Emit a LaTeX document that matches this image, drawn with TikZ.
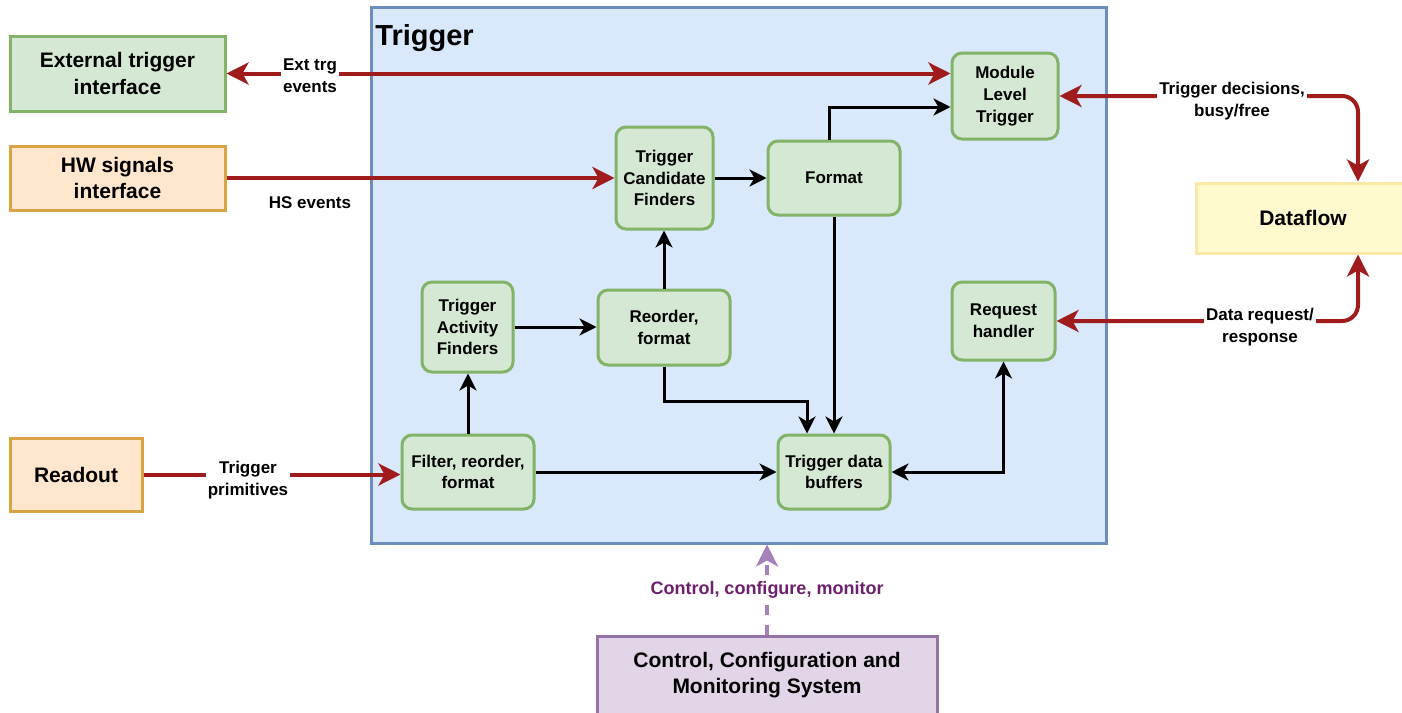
\documentclass[tikz,border=0pt]{standalone}
\usepackage{fontspec}
\setmainfont{Liberation Sans}
\usetikzlibrary{arrows.meta}
\definecolor{gfill}{HTML}{D5E8D4}
\definecolor{gline}{HTML}{82B366}
\definecolor{ofill}{HTML}{FFE6CC}
\definecolor{oline}{HTML}{D9A441}
\definecolor{bfill}{HTML}{DAE8FC}
\definecolor{bline}{HTML}{6C8EBF}
\definecolor{yfill}{HTML}{FFFACD}
\definecolor{yline}{HTML}{FBE8A6}
\definecolor{pfill}{HTML}{E1D5E7}
\definecolor{pline}{HTML}{9673A6}
\definecolor{arrred}{HTML}{A01C1C}
\definecolor{purtext}{HTML}{6E1F6E}
\definecolor{purarr}{HTML}{A680B8}
\begin{document}
\begin{tikzpicture}[x=0.5pt,y=-0.5pt,
  outerbox/.style={draw, line width=1.5pt, rectangle, inner sep=0pt, align=center,
    font=\bfseries\fontsize{10.5}{13.3}\selectfont},
  innerbox/.style={draw=gline, fill=gfill, line width=1.5pt, rounded corners=5pt,
    inner sep=0pt, align=center, font=\bfseries\fontsize{8.5}{10.9}\selectfont},
  lbl/.style={align=center, inner sep=1pt, font=\bfseries\fontsize{8.5}{11}\selectfont},
  redarr/.style={draw=arrred, line width=2pt, -{Stealth[length=11pt,width=11pt,inset=3pt]}},
  redboth/.style={draw=arrred, line width=2pt, {Stealth[length=11pt,width=11pt,inset=3pt]}-{Stealth[length=11pt,width=11pt,inset=3pt]}},
  blkarr/.style={draw=black, line width=1.5pt, -{Stealth[length=8.5pt,width=8.5pt,inset=2.5pt]}},
  blkboth/.style={draw=black, line width=1.5pt, {Stealth[length=8.5pt,width=8.5pt,inset=2.5pt]}-{Stealth[length=8.5pt,width=8.5pt,inset=2.5pt]}},
  purparr/.style={draw=purarr, line width=2pt, dash pattern=on 5pt off 5pt, -{Stealth[length=11pt,width=11pt,inset=3pt]}}
]
\useasboundingbox (0,0) rectangle (1402,712);

% Trigger container
\node[draw=bline, fill=bfill, line width=1.5pt, minimum width=367.5pt, minimum height=268pt, inner sep=0pt] (trig) at (738.5,275) {};
\node[anchor=base west, inner sep=0pt, font=\bfseries\fontsize{14.5}{16}\selectfont] (trigtitle) at (375,45) {Trigger};

% Outer boxes
\node[outerbox, draw=gline, fill=gfill, minimum width=107.5pt, minimum height=37.5pt] (ext) at (117.5,73.5) {External trigger\\interface};
\node[outerbox, draw=oline, fill=ofill, minimum width=107.5pt, minimum height=32pt] (hw) at (117.5,178) {HW signals\\interface};
\node[outerbox, draw=oline, fill=ofill, minimum width=66pt, minimum height=36.5pt] (readout) at (76,474.5) {Readout};
\node[outerbox, draw=yline, fill=yfill, minimum width=107pt, minimum height=35pt] (df) at (1303,218) {Dataflow};
\node[outerbox, draw=pline, fill=pfill, minimum width=170pt, minimum height=39pt] (ccm) at (767,675) {Control, Configuration and\\Monitoring System};

% Inner boxes
\node[innerbox, minimum width=53pt, minimum height=43pt] (mlt) at (1005,96) {Module\\Level\\Trigger};
\node[innerbox, minimum width=48.5pt, minimum height=51pt] (tcf) at (664.5,178) {Trigger\\Candidate\\Finders};
\node[innerbox, minimum width=66pt, minimum height=37pt] (fmt) at (834,178) {Format};
\node[innerbox, minimum width=45.5pt, minimum height=45pt] (taf) at (467.5,327) {Trigger\\Activity\\Finders};
\node[innerbox, minimum width=66pt, minimum height=37.5pt] (reo) at (664,327.5) {Reorder,\\format};
\node[innerbox, minimum width=51.5pt, minimum height=39pt] (req) at (1003.5,321) {Request\\handler};
\node[innerbox, minimum width=66pt, minimum height=37pt] (frf) at (468,472) {Filter, reorder,\\format};
\node[innerbox, minimum width=56pt, minimum height=37pt] (tdb) at (834,472) {Trigger data\\buffers};

% Black connectors
\draw[blkarr] (tcf.east) -- (tcf.east -| fmt.west);
\draw[blkarr] ([xshift=-2.5pt]fmt.north) |- ([yshift=-5.5pt]mlt.west);
\draw[blkarr] (fmt.south) -- (fmt.south |- tdb.north);
\draw[blkarr] (reo.south) -- ++(0,35) -| ([xshift=-13.5pt]tdb.north);
\draw[blkarr] (reo.north) -- (reo.north |- tcf.south);
\draw[blkarr] (taf.east) -- (taf.east -| reo.west);
\draw[blkarr] (frf.north) -- (frf.north |- taf.south);
\draw[blkarr] (frf.east) -- (frf.east -| tdb.west);
\draw[blkboth] (tdb.east) -| (req.south);

% Red connectors
\draw[redboth] (ext.east) -- (ext.east -| mlt.west);
\draw[redarr] (hw.east) -- (hw.east -| tcf.west);
\draw[redarr] (readout.east) -- (readout.east -| frf.west);
\draw[redboth, rounded corners=8pt] (mlt.east) -| ([xshift=27.5pt]df.north);
\draw[redboth, rounded corners=8pt] (req.east) -| ([xshift=27.5pt]df.south);

% Purple dashed connector
\draw[purparr] (ccm.north) -- (ccm.north |- trig.south);

% Labels
\node[lbl, fill=white] (lext) at (310,76) {Ext trg\\events};
\node[lbl] (lhs) at (310,203) {HS events};
\node[lbl, fill=white] (ltp) at (248,480) {Trigger\\primitives};
\node[lbl, fill=white] (ltd) at (1232,101) {Trigger decisions,\\busy/free};
\node[lbl, fill=white] (ldr) at (1260,327) {Data request/\\response};
\node[lbl, fill=white, text=purtext, font=\bfseries\fontsize{9}{11}\selectfont] (lccm) at (767,590) {Control, configure, monitor};
\end{tikzpicture}
\end{document}
